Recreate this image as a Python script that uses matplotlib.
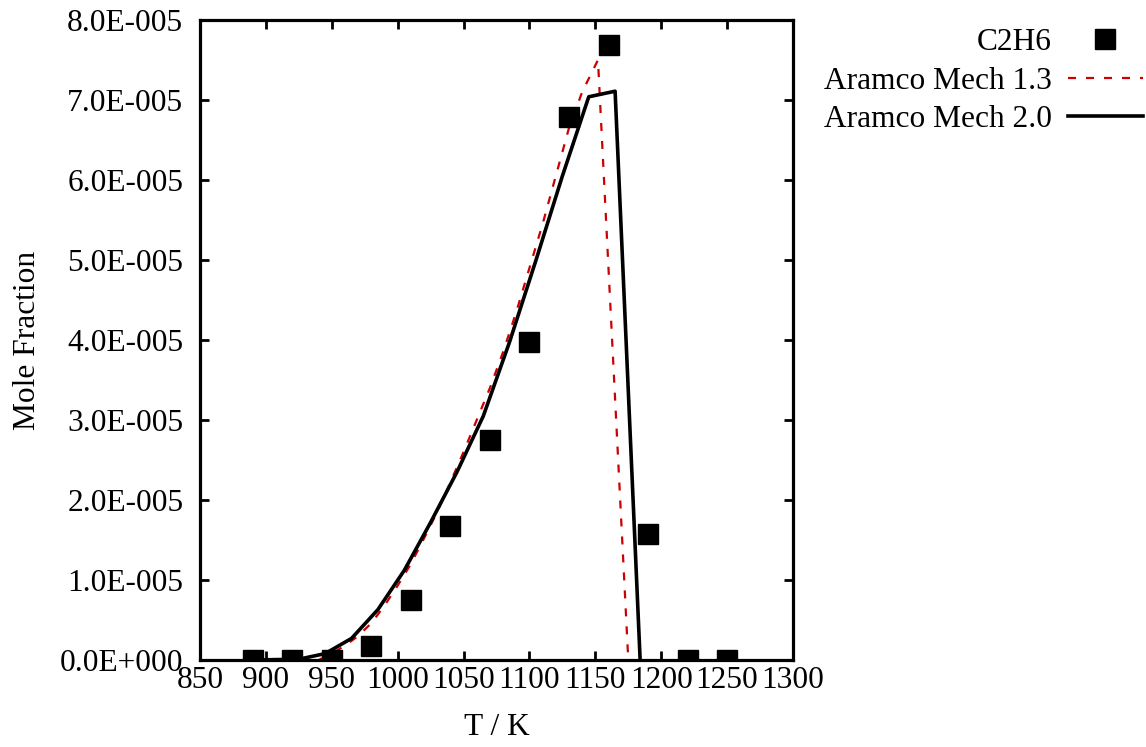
import matplotlib
matplotlib.use("Agg")
import matplotlib.pyplot as plt
from matplotlib.ticker import FuncFormatter, MultipleLocator

plt.rcParams['font.family'] = ['Liberation Serif', 'DejaVu Serif']
plt.rcParams['mathtext.fontset'] = 'stix'

# Experimental data (C2H6)
exp_T = [890, 920, 950, 980, 1010, 1040, 1070, 1100, 1130, 1160, 1190, 1220, 1250]
exp_X = [0.0, 0.0, 0.0, 0.17e-5, 0.75e-5, 1.68e-5, 2.75e-5, 3.98e-5, 6.79e-5, 7.69e-5, 1.58e-5, 0.0, 0.0]

# Aramco Mech 1.3 (red dashed)
m13_T = [940, 950, 960, 970, 980, 990, 1000, 1010, 1020, 1030, 1040, 1050, 1060,
         1070, 1080, 1090, 1100, 1110, 1120, 1130, 1140, 1152, 1175]
m13_X = [0.0, 0.08e-5, 0.18e-5, 0.30e-5, 0.46e-5, 0.68e-5, 0.93e-5, 1.20e-5, 1.52e-5,
         1.85e-5, 2.22e-5, 2.60e-5, 3.00e-5, 3.40e-5, 3.85e-5, 4.35e-5, 4.90e-5, 5.45e-5,
         6.05e-5, 6.65e-5, 7.10e-5, 7.50e-5, 0.0]

# Aramco Mech 2.0 (black solid)
m20_T = [890, 925, 945, 965, 985, 1005, 1025, 1045, 1065, 1085, 1105, 1125, 1145, 1165, 1184]
m20_X = [0.0, 0.01e-5, 0.08e-5, 0.27e-5, 0.63e-5, 1.12e-5, 1.72e-5, 2.35e-5, 3.05e-5,
         3.98e-5, 5.00e-5, 6.05e-5, 7.04e-5, 7.11e-5, 0.0]

x_ticks = [850, 900, 950, 1000, 1050, 1100, 1150, 1200, 1250, 1300]

fs = 22.6
fig = plt.figure(figsize=(11.46, 7.47), dpi=100)
ax = fig.add_axes([200/1146, 1-660/747, 593/1146, 640/747])

ax.plot(exp_T, exp_X, linestyle='none', marker='s', markersize=14.4,
        color='black', label='C2H6', zorder=3)
ax.plot(m13_T, m13_X, linestyle=(0, (3.6, 4.5)), color='#cc0000', linewidth=1.6,
        label='Aramco Mech 1.3', zorder=2)
ax.plot(m20_T, m20_X, linestyle='-', color='black', linewidth=2.6,
        label='Aramco Mech 2.0', zorder=2)

ax.set_xlim(850, 1300)
ax.set_ylim(0, 8e-5)
ax.set_xticks(x_ticks)
ax.set_xticklabels([str(t) for t in x_ticks])
ax.yaxis.set_major_locator(MultipleLocator(1e-5))


def sci_fmt(v, pos):
    s = f"{v:.1E}"
    m, e = s.split("E")
    e = int(e)
    if v == 0:
        e = 0
    sign = '+' if e >= 0 else '-'
    return f"{m}E{sign}{abs(e):03d}"


ax.yaxis.set_major_formatter(FuncFormatter(sci_fmt))

for sp in ax.spines.values():
    sp.set_linewidth(2.3)
ax.tick_params(axis='both', which='major', direction='in', length=6.5, width=2.0,
               top=True, right=True, labelsize=fs)
ax.tick_params(axis='y', pad=12)
ax.tick_params(axis='x', pad=4)

ax.set_xlabel('T / K', fontsize=fs)
ax.set_ylabel('Mole Fraction', fontsize=fs)
ax.xaxis.set_label_coords(0.5, -0.083)
ax.yaxis.set_label_coords(-0.266, 0.5)

leg = ax.legend(loc='upper right', bbox_to_anchor=(1143/1146, 1-28/747),
                bbox_transform=fig.transFigure, frameon=False, markerfirst=False,
                fontsize=fs, handlelength=2.4, handletextpad=0.5,
                labelspacing=0.31, borderpad=0, borderaxespad=0)

fig.savefig('out.png', dpi=100)
